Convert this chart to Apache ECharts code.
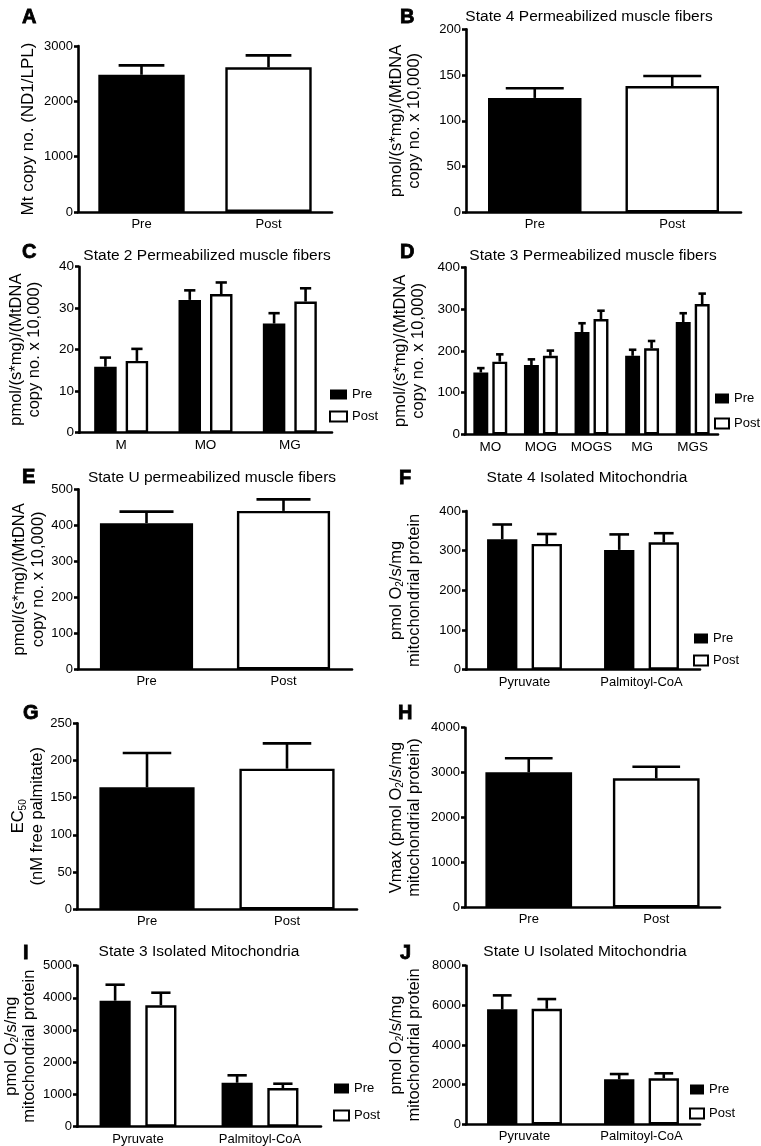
<!DOCTYPE html>
<html><head><meta charset="utf-8">
<script src="https://cdn.jsdelivr.net/npm/echarts/dist/echarts.min.js"></script>
<style>html,body{margin:0;padding:0;background:#fff}#chart{width:761px;height:1146px}</style>
</head><body><div id="chart"></div>
<script>
// ---------- DATA ----------
const prePost = ['Pre', 'Post'];
const aValues = [2480, 2615];  const aErrors = [170, 215];
const bValues = [125, 138];    const bErrors = [10.5, 11];
const cCategories = ['M', 'MO', 'MG'];
const cPre = [15.9, 32.0, 26.3];  const cPreErr = [2.2, 2.3, 2.5];
const cPost = [17.3, 33.4, 31.6]; const cPostErr = [2.9, 2.8, 3.2];
const dCategories = ['MO', 'MOG', 'MOGS', 'MG', 'MGS'];
const dPre = [148, 166, 245, 188, 269];   const dPreErr = [10.5, 13.5, 21, 14.5, 21];
const dPost = [174, 188, 276, 206, 312];  const dPostErr = [17.5, 12.5, 20, 17.5, 25];
const eValues = [406, 440];    const eErrors = [32, 32];
const substrates = ['Pyruvate', 'Palmitoyl-CoA'];
const fPre = [329, 302];  const fPreErr = [37, 39];
const fPost = [317, 321]; const fPostErr = [25, 23];
const gValues = [164, 189];    const gErrors = [46, 34];
const hValues = [3007, 2873];  const hErrors = [311, 258];
const iPre = [3913, 1366];  const iPreErr = [497, 230];
const iPost = [3770, 1202]; const iPostErr = [391, 133];
const jPre = [5797, 2268];  const jPreErr = [706, 267];
const jPost = [5828, 2319]; const jPostErr = [489, 252];

const permeabUnit = 'pmol/(s*mg)/(MtDNA\ncopy no. x 10,000)';
const isoUnit = 'pmol O{s|2}/s/mg\nmitochondrial protein';

// ---------- STYLE / LAYOUT ----------
const FONT = '"Liberation Sans", Arial, Helvetica, sans-serif';
const AX_W = 2.6, ERR_W = 2.6;
const PRE = {color: '#000', borderColor: '#000', borderWidth: 2.4};
const POST = {color: '#fff', borderColor: '#000', borderWidth: 2.4};

const grids = [], xAxes = [], yAxes = [], series = [], titles = [], legends = [];

function errSeries(gi, values, errors, k, n, p) {
  const catGap = parseFloat(p.catGap) / 100, barGap = parseFloat(p.barGap || '0') / 100;
  return {
    type: 'custom', xAxisIndex: gi, yAxisIndex: gi, z: 5, silent: true,
    data: values.map((v, i) => [i, v, errors[i]]),
    renderItem(params, api) {
      const i = api.value(0), v = api.value(1), e = api.value(2);
      const base = api.coord([i, v]), top = api.coord([i, v + e]);
      const band = api.size([1, 0])[0] * (1 - catGap);
      const bw = band / (n + (n - 1) * barGap);
      const cx = base[0] - band / 2 + k * bw * (1 + barGap) + bw / 2;
      const cap = bw * p.capRatio;
      const style = {stroke: '#000', lineWidth: ERR_W, fill: null};
      return {type: 'group', children: [
        {type: 'line', shape: {x1: cx, y1: base[1], x2: cx, y2: top[1]}, style},
        {type: 'line', shape: {x1: cx - cap / 2, y1: top[1], x2: cx + cap / 2, y2: top[1]}, style}
      ]};
    }
  };
}

function addPanel(p) {
  const gi = grids.length;
  grids.push({left: p.left, top: p.top, width: p.width, height: p.height, containLabel: false});
  xAxes.push({gridIndex: gi, type: 'category', data: p.categories,
    axisTick: {show: false},
    axisLine: {lineStyle: {color: '#000', width: AX_W}},
    axisLabel: {color: '#000', fontSize: p.xFont || 13, fontFamily: FONT, margin: 6, interval: 0}});
  yAxes.push({gridIndex: gi, type: 'value', min: 0, max: p.max, interval: p.interval,
    splitLine: {show: false},
    axisLine: {show: true, lineStyle: {color: '#000', width: AX_W}},
    axisTick: {show: true, length: 4, lineStyle: {color: '#000', width: AX_W}},
    axisLabel: {color: '#000', fontSize: p.yFont || 13, fontFamily: FONT, margin: 5,
      formatter: v => String(v)},
    name: p.yName, nameLocation: 'middle', nameGap: p.nameGap,
    nameTextStyle: {color: '#000', fontSize: p.nameFont || 16.5, fontFamily: FONT, lineHeight: 18.5,
      rich: {s: {fontSize: 10, fontFamily: FONT, color: '#000', verticalAlign: 'bottom', lineHeight: 18.5}}}});
  if (p.groups) {
    p.groups.forEach((g, k) => series.push({type: 'bar', name: g.name, xAxisIndex: gi, yAxisIndex: gi,
      data: g.values, barCategoryGap: p.catGap, barGap: p.barGap, itemStyle: k === 0 ? PRE : POST, silent: true}));
    p.groups.forEach((g, k) => series.push(errSeries(gi, g.values, g.errors, k, p.groups.length, p)));
  } else {
    series.push({type: 'bar', name: 'panel' + gi, xAxisIndex: gi, yAxisIndex: gi, silent: true,
      data: p.values.map((v, i) => ({value: v, itemStyle: i === 0 ? PRE : POST})),
      barCategoryGap: p.catGap});
    series.push(errSeries(gi, p.values, p.errors, 0, 1, p));
  }
  if (p.title) titles.push({text: p.title, left: p.titleX, top: p.titleTop + 2.5, textAlign: 'center', padding: 0,
    textStyle: {fontSize: 15.5, fontWeight: 'normal', fontFamily: FONT, color: '#000'}});
  titles.push({text: p.letter, left: p.letterX, top: p.letterTop + 1.5, padding: 0,
    textStyle: {fontSize: 20, fontWeight: 'bold', fontFamily: FONT, color: '#000',
      textBorderColor: '#000', textBorderWidth: 0.8}});
  if (p.legend) legends.push(Object.assign({orient: 'vertical', icon: 'rect', itemHeight: 10, padding: 0,
    selectedMode: false,
    textStyle: {fontSize: 13, fontFamily: FONT, color: '#000', lineHeight: 10},
    data: [{name: 'Pre', itemStyle: {color: '#000', borderColor: '#000', borderWidth: 0}},
           {name: 'Post', itemStyle: {color: '#fff', borderColor: '#000', borderWidth: 2}}]}, p.legend));
}

addPanel({letter: 'A', letterX: 22, letterTop: 5.5, left: 78, top: 46, width: 254, height: 166,
  categories: prePost, values: aValues, errors: aErrors, max: 3000, interval: 1000,
  yName: 'Mt copy no. (ND1/LPL)', nameGap: 40, nameFont: 17, catGap: '32%', capRatio: 0.53});
addPanel({letter: 'B', letterX: 400, letterTop: 5.5, left: 466, top: 29.3, width: 275, height: 183,
  title: 'State 4 Permeabilized muscle fibers', titleX: 589, titleTop: 6.5,
  categories: prePost, values: bValues, errors: bErrors, max: 200, interval: 50,
  yName: permeabUnit, nameGap: 42, catGap: '32%', capRatio: 0.62});
addPanel({letter: 'C', letterX: 22, letterTop: 240.5, left: 79, top: 266.7, width: 253, height: 166,
  title: 'State 2 Permeabilized muscle fibers', titleX: 207, titleTop: 245,
  categories: cCategories, max: 40, interval: 10, xFont: 13.5, yFont: 13.5,
  groups: [{name: 'Pre', values: cPre, errors: cPreErr}, {name: 'Post', values: cPost, errors: cPostErr}],
  yName: permeabUnit, nameGap: 35, catGap: '36%', barGap: '40%', capRatio: 0.5,
  legend: {left: 329, top: 388, itemWidth: 17, itemGap: 9}});
addPanel({letter: 'D', letterX: 400, letterTop: 240.5, left: 465, top: 267.3, width: 253, height: 167,
  title: 'State 3 Permeabilized muscle fibers', titleX: 593, titleTop: 245,
  categories: dCategories, max: 400, interval: 100, xFont: 13.5, yFont: 13.5,
  groups: [{name: 'Pre', values: dPre, errors: dPreErr}, {name: 'Post', values: dPost, errors: dPostErr}],
  yName: permeabUnit, nameGap: 37, catGap: '33%', barGap: '27%', capRatio: 0.5,
  legend: {left: 714, top: 392, itemWidth: 14, itemGap: 12}});
addPanel({letter: 'E', letterX: 22, letterTop: 465.5, left: 78, top: 489.3, width: 274, height: 180,
  title: 'State U permeabilized muscle fibers', titleX: 212, titleTop: 467,
  categories: prePost, values: eValues, errors: eErrors, max: 500, interval: 100,
  yName: permeabUnit, nameGap: 30, catGap: '32%', capRatio: 0.58});
addPanel({letter: 'F', letterX: 399, letterTop: 467, left: 466, top: 511, width: 234, height: 158.7,
  title: 'State 4 Isolated Mitochondria', titleX: 587, titleTop: 467,
  categories: substrates, max: 400, interval: 100,
  groups: [{name: 'Pre', values: fPre, errors: fPreErr}, {name: 'Post', values: fPost, errors: fPostErr}],
  yName: isoUnit, nameGap: 42, catGap: '36%', barGap: '47%', capRatio: 0.65,
  legend: {left: 693, top: 632, itemWidth: 14, itemGap: 9}});
addPanel({letter: 'G', letterX: 23, letterTop: 702, left: 77, top: 723.3, width: 280, height: 186,
  categories: prePost, values: gValues, errors: gErrors, max: 250, interval: 50,
  yName: 'EC{s|50}\n(nM free palmitate)', nameGap: 26, catGap: '32%', capRatio: 0.51});
addPanel({letter: 'H', letterX: 398, letterTop: 702, left: 465, top: 727.7, width: 255, height: 179.6,
  categories: prePost, values: hValues, errors: hErrors, max: 4000, interval: 1000,
  yName: 'Vmax (pmol O{s|2}/s/mg\nmitochondrial protein)', nameGap: 41, catGap: '32%', capRatio: 0.55});
addPanel({letter: 'I', letterX: 23, letterTop: 942, left: 77, top: 965.7, width: 244, height: 161,
  title: 'State 3 Isolated Mitochondria', titleX: 199, titleTop: 941.5,
  categories: substrates, max: 5000, interval: 1000,
  groups: [{name: 'Pre', values: iPre, errors: iPreErr}, {name: 'Post', values: iPost, errors: iPostErr}],
  yName: isoUnit, nameGap: 33, catGap: '37%', barGap: '47%', capRatio: 0.62,
  legend: {left: 333, top: 1082, itemWidth: 15, itemGap: 14}});
addPanel({letter: 'J', letterX: 400, letterTop: 942, left: 466, top: 965.7, width: 234, height: 158.6,
  title: 'State U Isolated Mitochondria', titleX: 585, titleTop: 941.5,
  categories: substrates, max: 8000, interval: 2000,
  groups: [{name: 'Pre', values: jPre, errors: jPreErr}, {name: 'Post', values: jPost, errors: jPostErr}],
  yName: isoUnit, nameGap: 42, catGap: '36%', barGap: '47%', capRatio: 0.62,
  legend: {left: 689, top: 1083, itemWidth: 14, itemGap: 11}});

const chart = echarts.init(document.getElementById('chart'), null, {renderer: 'canvas'});
chart.setOption({
  backgroundColor: '#fff',
  animation: false,
  title: titles,
  legend: legends,
  grid: grids,
  xAxis: xAxes,
  yAxis: yAxes,
  series: series
});
</script>
</body></html>
